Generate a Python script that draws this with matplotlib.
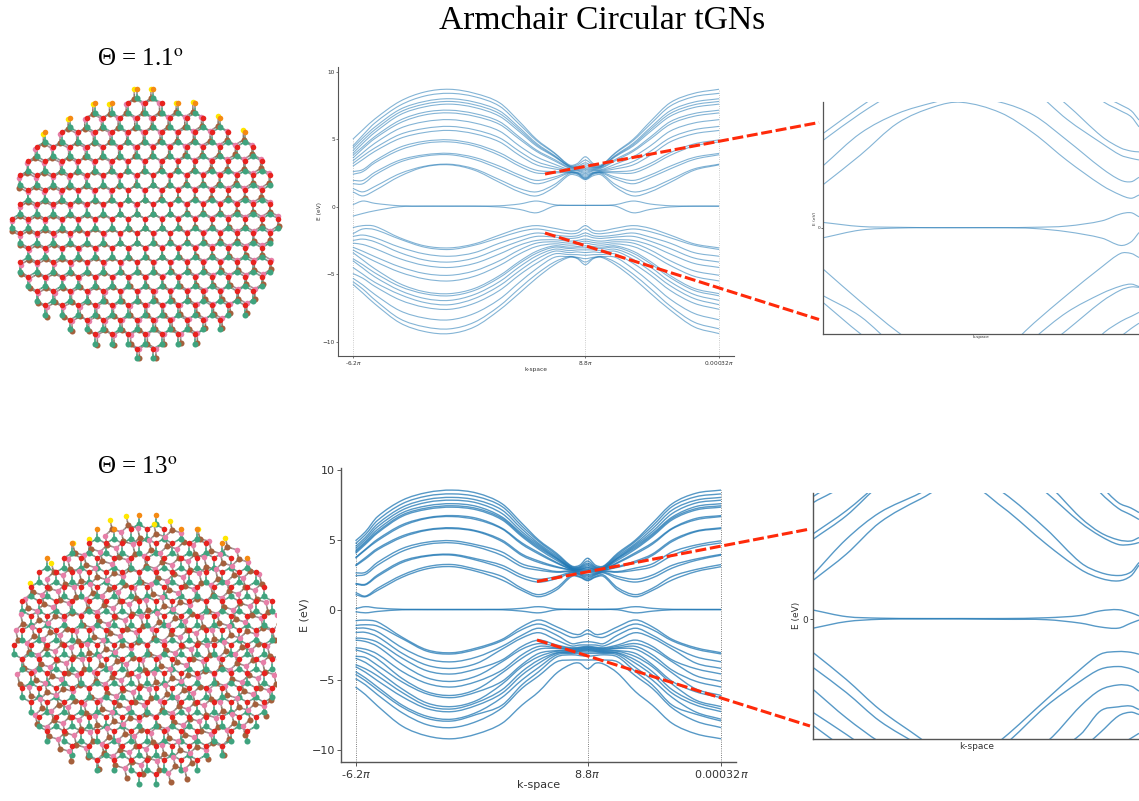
import numpy as np
from matplotlib import pyplot as plt
from matplotlib.collections import LineCollection
from matplotlib.patches import PathPatch
from matplotlib.path import Path

W, H = 1139, 801
TITLE = "Armchair Circular tGNs"
ANGLES = [1.1, 13]
ANGLE_LABELS = ["\u0398 = 1.1$^{\\mathrm{o}}$", "\u0398 = 13$^{\\mathrm{o}}$"]

# first and last column of the sheet in every atom row, counted off the picture.
# atoms themselves come from the honeycomb geometry, not typed one by one
FLAKE_ROWS = [(8, 9), (5, 11), (4, 13), (2, 14), (2, 15), (1, 15), (1, 16), (1, 15), (1, 16), (0, 16),
              (1, 16), (1, 15), (1, 16), (1, 15), (2, 15), (2, 14), (4, 13), (5, 11), (8, 9)]

K_TICKS = [0, 233, 367]
K_TICK_LABELS = ["-6.2$\\pi$", "8.8$\\pi$", "0.00032$\\pi$"]
E_TICKS = [-10, -5, 0, 5, 10]

# band energies (eV), left end -> centre of k path
K_LEFT = [0, 10, 22, 47, 72, 97, 122, 147, 167, 184, 202, 217, 225, 233]
# the right side retraces the bands from the centre back to the maximum
K_RIGHT = [241, 249, 263, 281, 298, 318, 342, 367]

BANDS_1 = [
    [5.0, 5.7, 6.5, 7.8, 8.5, 8.7, 8.4, 7.7, 6.3, 5.0, 4.0, 3.1, 3.2, 3.7],
    [4.5, 5.3, 6.2, 7.5, 8.2, 8.4, 8.15, 7.45, 6.1, 4.9, 3.95, 3.05, 3.1, 3.45],
    [4.35, 5.1, 5.9, 7.2, 7.8, 8.0, 7.75, 7.1, 5.85, 4.7, 3.8, 3.0, 3.0, 3.25],
    [4.15, 4.9, 5.7, 7.0, 7.6, 7.8, 7.55, 6.9, 5.7, 4.6, 3.75, 3.0, 2.95, 3.1],
    [3.95, 4.7, 5.5, 6.8, 7.4, 7.6, 7.35, 6.7, 5.55, 4.5, 3.7, 2.95, 2.9, 2.95],
    [3.8, 4.45, 5.2, 6.4, 7.0, 7.15, 6.9, 6.3, 5.15, 4.2, 3.5, 2.9, 2.85, 2.85],
    [3.6, 4.3, 5.05, 6.2, 6.8, 6.95, 6.7, 6.1, 5.0, 4.1, 3.4, 2.85, 2.8, 2.75],
    [3.4, 4.0, 4.7, 5.8, 6.3, 6.45, 6.2, 5.6, 4.5, 3.7, 3.15, 2.75, 2.75, 2.65],
    [3.2, 3.75, 4.35, 5.35, 5.8, 5.95, 5.7, 5.1, 4.1, 3.35, 2.95, 2.7, 2.7, 2.55],
    [3.0, 3.5, 4.1, 5.05, 5.5, 5.65, 5.4, 4.8, 3.8, 3.1, 2.8, 2.65, 2.65, 2.45],
    [2.6, 2.75, 3.4, 4.4, 4.85, 4.95, 4.65, 4.0, 3.2, 2.7, 2.6, 2.6, 2.55, 2.35],
    [2.4, 2.6, 3.25, 4.2, 4.7, 4.8, 4.5, 3.8, 3.0, 2.5, 2.5, 2.55, 2.5, 2.25],
    [1.95, 1.95, 2.55, 3.45, 3.85, 3.95, 3.65, 3.0, 2.35, 1.95, 2.2, 2.55, 2.5, 2.15],
    [1.7, 1.7, 2.35, 3.3, 3.75, 3.85, 3.5, 2.8, 2.15, 1.7, 2.05, 2.5, 2.45, 2.1],
    [1.35, 1.1, 1.5, 2.45, 3.0, 3.15, 2.8, 2.0, 1.35, 1.1, 1.65, 2.45, 2.4, 2.05],
    [1.1, 0.8, 1.2, 2.25, 2.95, 3.1, 2.7, 1.8, 1.1, 0.8, 1.45, 2.35, 2.3, 2.0],
    [0.15, 0.42, 0.25, 0.07, 0.05, 0.05, 0.05, 0.07, 0.2, 0.42, 0.15, 0.1, 0.1, 0.1],
    [-0.7, -0.5, -0.3, 0.0, 0.03, 0.03, 0.03, -0.02, -0.2, -0.45, 0.05, 0.1, 0.1, 0.1],
    [-1.55, -1.4, -1.45, -2.3, -2.9, -3.05, -2.75, -2.1, -1.6, -1.4, -1.6, -1.8, -1.75, -1.4],
    [-2.0, -1.65, -1.7, -2.4, -3.0, -3.17, -2.85, -2.3, -1.85, -1.65, -1.85, -2.0, -1.95, -1.65],
    [-2.2, -2.1, -2.3, -3.0, -3.5, -3.67, -3.4, -2.7, -2.25, -1.95, -2.1, -2.2, -2.15, -1.95],
    [-2.5, -2.4, -2.6, -3.4, -3.95, -4.1, -3.8, -3.1, -2.55, -2.2, -2.25, -2.35, -2.3, -2.15],
    [-2.7, -2.8, -3.1, -3.85, -4.35, -4.5, -4.2, -3.5, -2.85, -2.5, -2.45, -2.55, -2.5, -2.4],
    [-3.0, -3.3, -3.7, -4.45, -4.95, -5.08, -4.75, -4.0, -3.2, -2.7, -2.6, -2.7, -2.65, -2.55],
    [-3.2, -3.6, -4.05, -4.85, -5.35, -5.5, -5.15, -4.35, -3.5, -2.95, -2.75, -2.85, -2.8, -2.7],
    [-3.4, -3.95, -4.6, -5.7, -6.3, -6.44, -6.05, -5.1, -4.05, -3.3, -2.9, -3.0, -2.95, -2.9],
    [-3.85, -4.3, -4.9, -5.9, -6.45, -6.6, -6.2, -5.25, -4.2, -3.45, -3.0, -3.1, -3.05, -3.05],
    [-4.0, -4.55, -5.2, -6.2, -6.8, -6.94, -6.5, -5.55, -4.45, -3.65, -3.15, -3.25, -3.2, -3.2],
    [-4.5, -5.0, -5.6, -6.5, -7.1, -7.26, -6.8, -5.85, -4.75, -3.9, -3.3, -3.4, -3.35, -3.4],
    [-4.95, -5.3, -5.9, -6.9, -7.45, -7.6, -7.15, -6.2, -5.05, -4.2, -3.5, -3.55, -3.55, -3.6],
    [-5.3, -5.8, -6.5, -7.7, -8.25, -8.38, -7.9, -6.85, -5.6, -4.6, -3.75, -3.7, -3.75, -3.85],
    [-5.55, -6.1, -6.9, -8.3, -8.9, -9.05, -8.55, -7.35, -6.05, -5.0, -4.1, -3.7, -3.8, -4.1],
    [-5.75, -6.4, -7.2, -8.6, -9.25, -9.4, -8.9, -7.65, -6.4, -5.3, -4.3, -3.75, -3.85, -4.3],
]

BANDS_2 = [
    [4.95, 5.6, 6.67, 7.85, 8.4, 8.57, 8.35, 7.6, 6.2, 5.0, 4.05, 3.15, 3.2, 3.7],
    [4.75, 5.4, 6.4, 7.6, 8.15, 8.3, 8.1, 7.4, 6.0, 4.9, 3.95, 3.1, 3.1, 3.5],
    [4.55, 5.2, 6.15, 7.35, 7.9, 8.05, 7.85, 7.15, 5.8, 4.75, 3.85, 3.05, 3.05, 3.35],
    [4.4, 5.05, 5.95, 7.15, 7.7, 7.85, 7.65, 6.9, 5.6, 4.65, 3.75, 3.0, 3.0, 3.25],
    [4.25, 4.9, 5.75, 6.95, 7.45, 7.6, 7.4, 6.65, 5.45, 4.55, 3.7, 3.0, 2.95, 3.15],
    [4.15, 4.8, 5.6, 6.8, 7.3, 7.45, 7.25, 6.55, 5.35, 4.45, 3.65, 2.95, 2.9, 3.05],
    [4.05, 4.7, 5.5, 6.7, 7.2, 7.35, 7.15, 6.45, 5.25, 4.35, 3.55, 2.95, 2.9, 3.0],
    [3.75, 4.35, 5.05, 6.1, 6.6, 6.75, 6.55, 5.85, 4.8, 4.1, 3.4, 2.9, 2.85, 2.9],
    [3.7, 4.3, 4.95, 6.0, 6.55, 6.68, 6.45, 5.8, 4.7, 4.0, 3.35, 2.9, 2.82, 2.85],
    [3.2, 3.75, 4.4, 5.3, 5.75, 5.88, 5.65, 5.0, 4.0, 3.5, 3.1, 2.85, 2.75, 2.75],
    [3.15, 3.65, 4.3, 5.2, 5.7, 5.82, 5.6, 4.9, 3.9, 3.4, 3.05, 2.85, 2.72, 2.7],
    [2.65, 2.7, 3.4, 4.4, 4.85, 4.95, 4.65, 4.15, 3.3, 3.0, 2.75, 2.8, 2.65, 2.55],
    [2.45, 2.55, 3.2, 4.2, 4.7, 4.8, 4.5, 3.9, 3.1, 2.85, 2.7, 2.75, 2.6, 2.45],
    [1.9, 1.85, 2.5, 3.5, 3.9, 3.98, 3.65, 3.2, 2.5, 2.2, 2.4, 2.7, 2.55, 2.35],
    [1.85, 1.8, 2.4, 3.4, 3.85, 3.92, 3.55, 3.0, 2.3, 2.0, 2.25, 2.65, 2.5, 2.25],
    [1.25, 1.0, 1.55, 2.5, 3.1, 3.25, 2.9, 2.4, 1.55, 1.1, 1.6, 2.5, 2.4, 2.15],
    [1.1, 0.95, 1.4, 2.35, 2.95, 3.1, 2.75, 2.15, 1.4, 0.95, 1.45, 2.4, 2.35, 2.1],
    [0.1, 0.24, 0.14, 0.05, 0.04, 0.04, 0.04, 0.05, 0.12, 0.24, 0.08, 0.05, 0.05, 0.05],
    [-0.12, -0.2, -0.1, 0.02, 0.03, 0.03, 0.03, 0.02, -0.08, -0.2, 0.02, 0.04, 0.04, 0.04],
    [-0.76, -0.72, -0.85, -1.95, -2.85, -3.05, -2.7, -2.1, -1.2, -0.71, -1.2, -1.67, -1.74, -1.43],
    [-1.1, -1.05, -1.15, -2.05, -2.95, -3.14, -2.8, -2.2, -1.4, -1.0, -1.48, -1.95, -1.9, -1.7],
    [-1.3, -1.3, -1.55, -2.7, -3.5, -3.7, -3.35, -2.6, -1.8, -1.3, -1.8, -2.4, -2.33, -2.26],
    [-1.6, -1.6, -1.9, -3.1, -3.95, -4.17, -3.8, -2.8, -2.0, -1.62, -2.15, -2.57, -2.5, -2.5],
    [-2.0, -2.05, -2.3, -3.45, -4.35, -4.57, -4.2, -3.57, -2.6, -2.15, -2.5, -2.7, -2.65, -2.6],
    [-2.15, -2.25, -2.6, -3.9, -4.85, -5.1, -4.7, -3.7, -2.8, -2.4, -2.6, -2.75, -2.7, -2.65],
    [-2.7, -2.8, -3.15, -4.4, -5.25, -5.5, -5.1, -4.3, -3.2, -2.6, -2.7, -2.8, -2.75, -2.7],
    [-2.85, -3.05, -3.5, -4.9, -5.85, -6.1, -5.65, -4.5, -3.45, -2.8, -2.75, -2.85, -2.8, -2.75],
    [-3.3, -3.4, -3.95, -5.15, -6.0, -6.26, -5.85, -5.1, -3.9, -3.1, -2.9, -2.9, -2.85, -2.8],
    [-3.45, -3.75, -4.35, -5.65, -6.65, -6.9, -6.45, -5.3, -4.05, -3.33, -2.95, -2.95, -2.9, -2.85],
    [-3.9, -4.2, -4.7, -5.9, -6.85, -7.07, -6.6, -5.7, -4.4, -3.57, -3.05, -3.0, -2.95, -2.9],
    [-4.05, -4.45, -5.05, -6.2, -7.05, -7.26, -6.8, -5.95, -4.65, -3.8, -3.1, -3.05, -3.0, -3.0],
    [-4.4, -4.85, -5.5, -6.8, -7.6, -7.8, -7.3, -6.25, -5.0, -4.1, -3.2, -3.1, -3.1, -3.1],
    [-4.6, -5.05, -5.7, -6.95, -7.75, -7.93, -7.45, -6.8, -5.35, -4.4, -3.35, -3.2, -3.25, -3.3],
    [-4.9, -5.35, -6.05, -7.35, -8.2, -8.4, -7.95, -7.0, -5.6, -4.7, -3.7, -3.57, -3.57, -3.57],
    [-5.5, -6.05, -6.85, -8.3, -9.0, -9.2, -8.85, -8.1, -6.8, -5.83, -4.5, -3.86, -3.8, -4.2],
]

# zoomed panels, read separately; values beyond the window are only estimates
INSET_K_1 = [27, 46, 65, 84, 97.8, 118, 135, 152, 170, 179.5, 185, 189]
INSET_BANDS_1 = [
    [1.07, 1.80, 2.59, 3.0, 3.11, 2.85, 2.34, 1.67, 1.05, 0.81, 0.73, 0.81],
    [1.54, 2.34, 2.83, 3.11, 3.25, 3.11, 2.79, 2.17, 1.47, 1.18, 1.14, 1.25],
    [2.17, 2.83, 3.4, 3.9, 4.2, 3.9, 3.4, 2.69, 2.09, 1.8, 1.72, 1.68],
    [2.34, 3.0, 3.6, 4.1, 4.4, 4.1, 3.7, 3.05, 2.26, 1.98, 1.9, 1.88],
    [5.0, 5.0, 5.0, 5.0, 5.0, 5.0, 5.0, 3.9, 3.15, 2.9, 2.75, 2.5],
    [5.0, 5.0, 5.0, 5.0, 5.0, 5.0, 5.0, 4.1, 3.3, 3.05, 2.9, 2.67],
    [0.13, 0.03, 0.01, 0.0, 0.0, 0.0, 0.01, 0.04, 0.17, 0.34, 0.37, 0.27],
    [-0.25, -0.06, -0.01, 0.0, 0.0, 0.0, -0.02, -0.1, -0.26, -0.44, -0.35, -0.12],
    [-1.03, -1.83, -2.58, -3.2, -3.4, -3.1, -2.37, -1.67, -0.97, -0.64, -0.64, -0.74],
    [-1.69, -2.2, -3.0, -3.6, -3.8, -3.5, -2.75, -2.1, -1.63, -1.45, -1.4, -1.46],
    [-1.86, -2.63, -3.3, -4.0, -4.2, -3.9, -3.2, -2.54, -1.83, -1.55, -1.47, -1.48],
    [-4.0, -4.0, -4.0, -4.0, -4.0, -4.0, -4.0, -3.6, -2.65, -2.33, -2.2, -2.1],
    [-4.0, -4.0, -4.0, -4.0, -4.0, -4.0, -4.0, -3.9, -3.0, -2.7, -2.5, -2.37],
]

INSET_K_2 = [14.6, 33, 51.5, 74, 97, 120, 144, 163, 174, 184, 191, 195.5]
INSET_BANDS_2 = [
    [1.02, 1.70, 2.52, 3.13, 3.6, 2.91, 1.96, 1.30, 1.07, 1.0, 1.13, 1.41],
    [1.17, 2.09, 2.78, 3.29, 3.9, 3.3, 2.35, 1.48, 1.22, 1.14, 1.23, 1.48],
    [2.09, 2.7, 3.5, 4.2, 4.6, 4.2, 3.3, 2.52, 2.17, 1.95, 1.95, 2.0],
    [2.23, 2.83, 3.55, 4.3, 4.8, 4.3, 3.55, 2.65, 2.26, 2.07, 2.04, 2.13],
    [3.04, 3.6, 5.0, 5.0, 5.0, 5.0, 5.0, 3.9, 3.3, 2.89, 2.72, 2.6],
    [3.2, 3.8, 5.0, 5.0, 5.0, 5.0, 5.0, 4.1, 3.5, 3.04, 2.9, 2.78],
    [0.24, 0.07, 0.03, 0.02, 0.02, 0.02, 0.04, 0.1, 0.22, 0.25, 0.17, 0.09],
    [-0.23, -0.06, 0.0, 0.01, 0.01, 0.0, -0.01, -0.1, -0.2, -0.23, -0.1, -0.02],
    [-0.87, -1.57, -2.35, -3.1, -3.9, -3.1, -2.09, -1.3, -0.91, -0.84, -0.86, -0.91],
    [-1.26, -1.91, -2.65, -3.3, -4.0, -3.3, -2.26, -1.61, -1.3, -1.23, -1.29, -1.39],
    [-1.83, -2.57, -3.2, -3.8, -4.3, -3.8, -3.2, -2.26, -1.84, -1.71, -1.74, -1.87],
    [-2.43, -3.0, -3.6, -4.2, -4.6, -4.2, -3.6, -3.0, -2.39, -2.28, -2.26, -2.35],
    [-2.77, -3.4, -4.0, -4.6, -5.0, -4.6, -4.0, -3.4, -2.95, -2.52, -2.42, -2.48],
    [-3.6, -4.0, -4.5, -5.0, -5.0, -5.0, -4.5, -4.0, -3.6, -3.3, -3.1, -2.97],
]

BAND_COLOR = "#1f77b4"
RED_COLOR = "#ff2a0a"


def ax_px(fig, left, top, right, bottom):
    # axes box given in pixels of the 1139x801 picture
    return fig.add_axes([left / W, 1 - bottom / H, (right - left) / W, (bottom - top) / H])


def curve_patch(k, e, **kwargs):
    # cubic path going through all the read values
    n = len(k)
    slopes = []
    for i in range(n):
        a, b = max(i - 1, 0), min(i + 1, n - 1)
        slopes.append((e[b] - e[a]) / (k[b] - k[a]))
    verts = [(k[0], e[0])]
    codes = [Path.MOVETO]
    for i in range(n - 1):
        dk = (k[i + 1] - k[i]) / 3
        verts.append((k[i] + dk, e[i] + slopes[i] * dk))
        verts.append((k[i + 1] - dk, e[i + 1] - slopes[i + 1] * dk))
        verts.append((k[i + 1], e[i + 1]))
        codes += [Path.CURVE4, Path.CURVE4, Path.CURVE4]
    return PathPatch(Path(verts, codes), fill=False, **kwargs)


def style_axes(ax, font, spine_color, spine_w):
    ax.spines["top"].set_visible(False)
    ax.spines["right"].set_visible(False)
    for side in ["left", "bottom"]:
        ax.spines[side].set_color(spine_color)
        ax.spines[side].set_linewidth(spine_w)
    ax.tick_params(labelsize=font, length=font * 0.35, width=spine_w * 0.7,
                   pad=font * 0.2, color=spine_color, labelcolor="#333333")


def band_panel(fig, box, ylim, bands, font, lw, alpha, guide_color, spine_w):
    ax = ax_px(fig, *box)
    ax.set_xlim(-14.6, 382)
    ax.set_ylim(*ylim)
    k_full = K_LEFT + K_RIGHT
    for band in bands:
        e_full = list(band) + list(band[5:-1][::-1])
        ax.add_patch(curve_patch(k_full, e_full, edgecolor=BAND_COLOR, lw=lw, alpha=alpha))
    # guides run from the axis up to the highest band at that k
    tops = [max(b[0] for b in bands), max(b[13] for b in bands), max(b[5] for b in bands)]
    ax.vlines(K_TICKS, ylim[0], tops, color=guide_color, lw=0.6, ls=":", zorder=0)
    ax.set_xticks(K_TICKS)
    ax.set_xticklabels(K_TICK_LABELS)
    ax.set_yticks(E_TICKS)
    ax.set_xlabel("k-space", fontsize=font, color="#333333", labelpad=0)
    ax.set_ylabel("E (eV)", fontsize=font, color="#333333", labelpad=font * 0.2)
    style_axes(ax, font, "#555555", spine_w)
    return ax


def inset_panel(fig, box, xlim, ylim, k, bands, font, lw, alpha, spine_w, ypad):
    ax = ax_px(fig, *box)
    ax.set_xlim(*xlim)
    ax.set_ylim(*ylim)
    for band in bands:
        ax.add_patch(curve_patch(k, band, edgecolor=BAND_COLOR, lw=lw, alpha=alpha))
    ax.set_xticks([])
    ax.set_yticks([0])
    ax.set_xlabel("k-space", fontsize=font, color="#333333", labelpad=font * 0.4)
    ax.set_ylabel("E (eV)", fontsize=font, color="#333333", labelpad=ypad)
    style_axes(ax, font, "#555555", spine_w)
    return ax


def make_layer(theta):
    # one honeycomb sheet in lattice constants, turned about the flake centre
    rot = np.radians(theta)
    c, s = np.cos(rot), np.sin(rot)
    atoms = {}
    for n, (first, last) in enumerate(FLAKE_ROWS):
        y = (9 - n) * np.sqrt(3) / 2
        for col in range(first, last + 1):
            x = col + 0.2 + 0.5 * (n % 2) - 8.7
            for kind, yy in (("A", y), ("B", y - 1 / np.sqrt(3))):
                atoms[(n, col, kind)] = (c * x - s * yy, s * x + c * yy)
    bonds = []
    for key in atoms:
        n, col, kind = key
        if kind != "B":
            continue
        # odd rows sit half a column to the right of even rows
        below = (col, col + 1) if n % 2 else (col - 1, col)
        for other in ((n, col, "A"), (n + 1, below[0], "A"), (n + 1, below[1], "A")):
            if other in atoms:
                bonds.append((key, other))
    return atoms, bonds


def draw_flake(ax, theta):
    layers = [
        (0, {"A": "#e8221e", "B": "#3fa37e", "endA": "#f58a12", "endB": "#3a72c4", "half": "#8f8f8f", "halfb": "#3fa37e"}),
        (theta, {"A": "#e77fa8", "B": "#a5603c", "endA": "#ffe600", "endB": "#8e44ad", "half": "#a98d95", "halfb": "#8a7a6a"}),
    ]
    zorders = [{"A": 5, "B": 3.8, "endA": 5.5, "endB": 5},
               {"A": 4, "B": 3.5, "endA": 4.8, "endB": 4.8}]
    for order in [1, 0]:
        angle, cols = layers[order]
        atoms, bonds = make_layer(angle)
        count = {key: 0 for key in atoms}
        segs = []
        seg_cols = []
        for b, a in bonds:
            count[a] += 1
            count[b] += 1
            pa, pb = np.array(atoms[a]), np.array(atoms[b])
            mid = (pa + pb) / 2
            segs += [[pa, mid], [mid, pb]]
            seg_cols += [cols["half"], cols["halfb"]]
        ax.add_collection(LineCollection(segs, colors=seg_cols, linewidths=1.2, zorder=2 + (1 - order) * 0.5))
        groups = {}
        for key, pos in atoms.items():
            kind = key[2]
            name = kind
            if count[key] == 1 and kind == "A":
                name = "endA"
            if count[key] == 1 and kind == "B" and pos[0] < -6.2:
                name = "endB"
            groups.setdefault(name, []).append(pos)
        for name, pts in groups.items():
            pts = np.array(pts)
            size = 19 if name == "B" else 16
            ax.scatter(pts[:, 0], pts[:, 1], s=size, c=cols[name], linewidths=0, zorder=zorders[order][name])


def flake_panel(fig, box, centre, theta):
    ax = ax_px(fig, *box)
    a = 16.67  # lattice constant in px
    ax.set_xlim((box[0] - centre[0]) / a, (box[2] - centre[0]) / a)
    ax.set_ylim((centre[1] - box[3]) / a, (centre[1] - box[1]) / a)
    ax.axis("off")
    draw_flake(ax, theta)


fig = plt.figure(figsize=(W / 100, H / 100), dpi=100)
fig.patch.set_facecolor("white")

flake_panel(fig, (0, 78, 295, 372), (145, 218.8), ANGLES[0])
flake_panel(fig, (0, 505, 276, 800), (147.3, 644.5), ANGLES[1])

band_panel(fig, (338.3, 67, 734, 356), (-11.06, 10.35), BANDS_1, 4.2, 0.8, 0.55, "#bbbbbb", 0.8)
band_panel(fig, (341, 468, 736, 762), (-10.86, 10.15), BANDS_2, 8.0, 1.0, 0.75, "#555555", 1.0)

inset_panel(fig, (823.3, 102.3, 1139, 333.7), (27, 189), (-2.63, 3.11), INSET_K_1, INSET_BANDS_1, 3.2, 0.8, 0.55, 0.9, 0.5)
inset_panel(fig, (813.3, 493, 1139, 738.7), (14.6, 195.5), (-3.11, 3.29), INSET_K_2, INSET_BANDS_2, 6.5, 1.0, 0.75, 1.0, 1.5)

# overlay in picture pixels for the zoom connectors and headings
over = fig.add_axes([0, 0, 1, 1], zorder=10)
over.set_xlim(0, W)
over.set_ylim(H, 0)
over.axis("off")
for x0, y0, x1, y1 in [(545, 174, 819, 122.5), (545, 233, 819, 319.5), (537, 581.5, 810, 529), (537, 640, 810, 726)]:
    over.plot([x0, x1], [y0, y1], color=RED_COLOR, lw=2.2, ls=(0, (3.6, 1.2)))

over.text(602.5, 21, TITLE, fontsize=24.2, family="Liberation Serif", ha="center", va="center", color="black")
over.text(140.5, 60, ANGLE_LABELS[0], fontsize=18, family="Liberation Serif", math_fontfamily="stix", ha="center", va="center")
over.text(137.5, 468, ANGLE_LABELS[1], fontsize=18, family="Liberation Serif", math_fontfamily="stix", ha="center", va="center")

fig.savefig("out.png", dpi=100)
